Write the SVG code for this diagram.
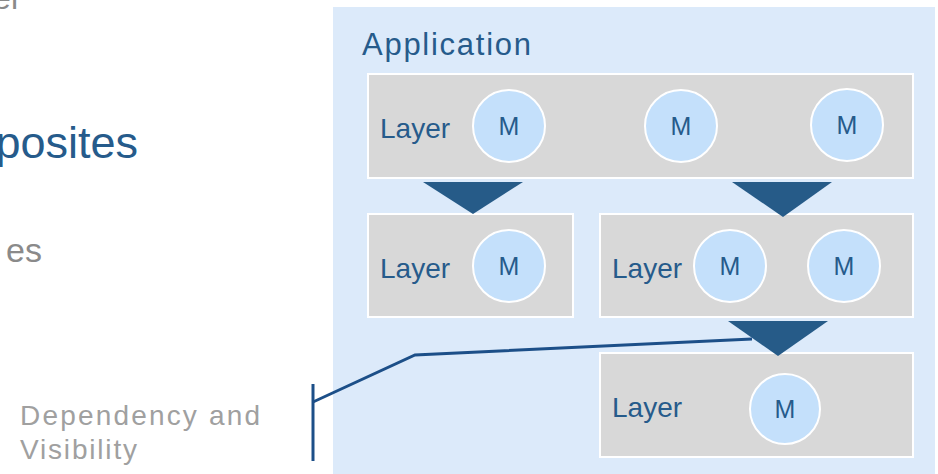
<svg xmlns="http://www.w3.org/2000/svg" width="938" height="474" viewBox="0 0 938 474">
  <style>
    text { font-family: "Liberation Sans", Arial, sans-serif; }
    .panel { fill: #dceafa; }
    .layer { fill: #d8d8d8; stroke: #ffffff; stroke-width: 2; }
    .mod { fill: #c4e0fb; stroke: #ffffff; stroke-width: 2; }
    .lbl { fill: #265b8b; font-size: 28px; }
    .m { fill: #265b8b; font-size: 25px; text-anchor: middle; }
    .dep { fill: #265b88; }
    .callout { fill: none; stroke: #1c4f88; stroke-width: 3; stroke-linejoin: miter; }
    .grey { fill: #8a8a8a; }
  </style>

  <!-- text running off the left edge -->
  <text class="grey" x="18" y="9" font-size="32" text-anchor="end">el</text>
  <text x="138" y="158" font-size="45" fill="#265b8b" text-anchor="end">posites</text>
  <text class="grey" x="42" y="262" font-size="34" text-anchor="end">es</text>
  <text x="20" y="425" font-size="28" fill="#a0a0a0" textLength="240" lengthAdjust="spacing">Dependency and</text>
  <text x="20" y="459" font-size="28" fill="#a0a0a0" textLength="117" lengthAdjust="spacing">Visibility</text>

  <!-- application container -->
  <g id="application">
    <rect class="panel" x="333" y="7" width="602" height="467"/>
    <text x="362" y="55" font-size="31" fill="#265b8b" textLength="169" lengthAdjust="spacing">Application</text>
  </g>

  <g id="layer-top">
    <rect class="layer" x="368" y="74" width="545" height="104"/>
    <text class="lbl" x="380" y="138">Layer</text>
    <ellipse class="mod" cx="509" cy="126" rx="36" ry="36"/>
    <text class="m" x="509" y="135">M</text>
    <ellipse class="mod" cx="681" cy="126" rx="36" ry="36"/>
    <text class="m" x="681" y="135">M</text>
    <ellipse class="mod" cx="847" cy="125" rx="36" ry="36"/>
    <text class="m" x="847" y="134">M</text>
  </g>

  <g id="layer-left">
    <rect class="layer" x="368" y="214" width="205" height="103"/>
    <text class="lbl" x="380" y="278">Layer</text>
    <ellipse class="mod" cx="509" cy="266" rx="36" ry="36"/>
    <text class="m" x="509" y="275">M</text>
  </g>

  <g id="layer-right">
    <rect class="layer" x="600" y="214" width="313" height="103"/>
    <text class="lbl" x="612" y="278">Layer</text>
    <ellipse class="mod" cx="730" cy="266" rx="36" ry="36"/>
    <text class="m" x="730" y="275">M</text>
    <ellipse class="mod" cx="844" cy="266" rx="36" ry="36"/>
    <text class="m" x="844" y="275">M</text>
  </g>

  <g id="layer-bottom">
    <rect class="layer" x="600" y="353" width="313" height="104"/>
    <text class="lbl" x="612" y="417">Layer</text>
    <ellipse class="mod" cx="785" cy="409" rx="35" ry="35"/>
    <text class="m" x="785" y="418">M</text>
  </g>

  <g id="connectors">
    <polygon class="dep" points="423,182 523,182 473,214"/>
    <polygon class="dep" points="732,182 832,182 783,217"/>
    <polygon class="dep" points="728,321 828,321 778,356"/>
    <polyline class="callout" points="313,402 415,355 752,339"/>
    <line class="callout" x1="313" y1="384" x2="313" y2="461"/>
  </g>
</svg>
